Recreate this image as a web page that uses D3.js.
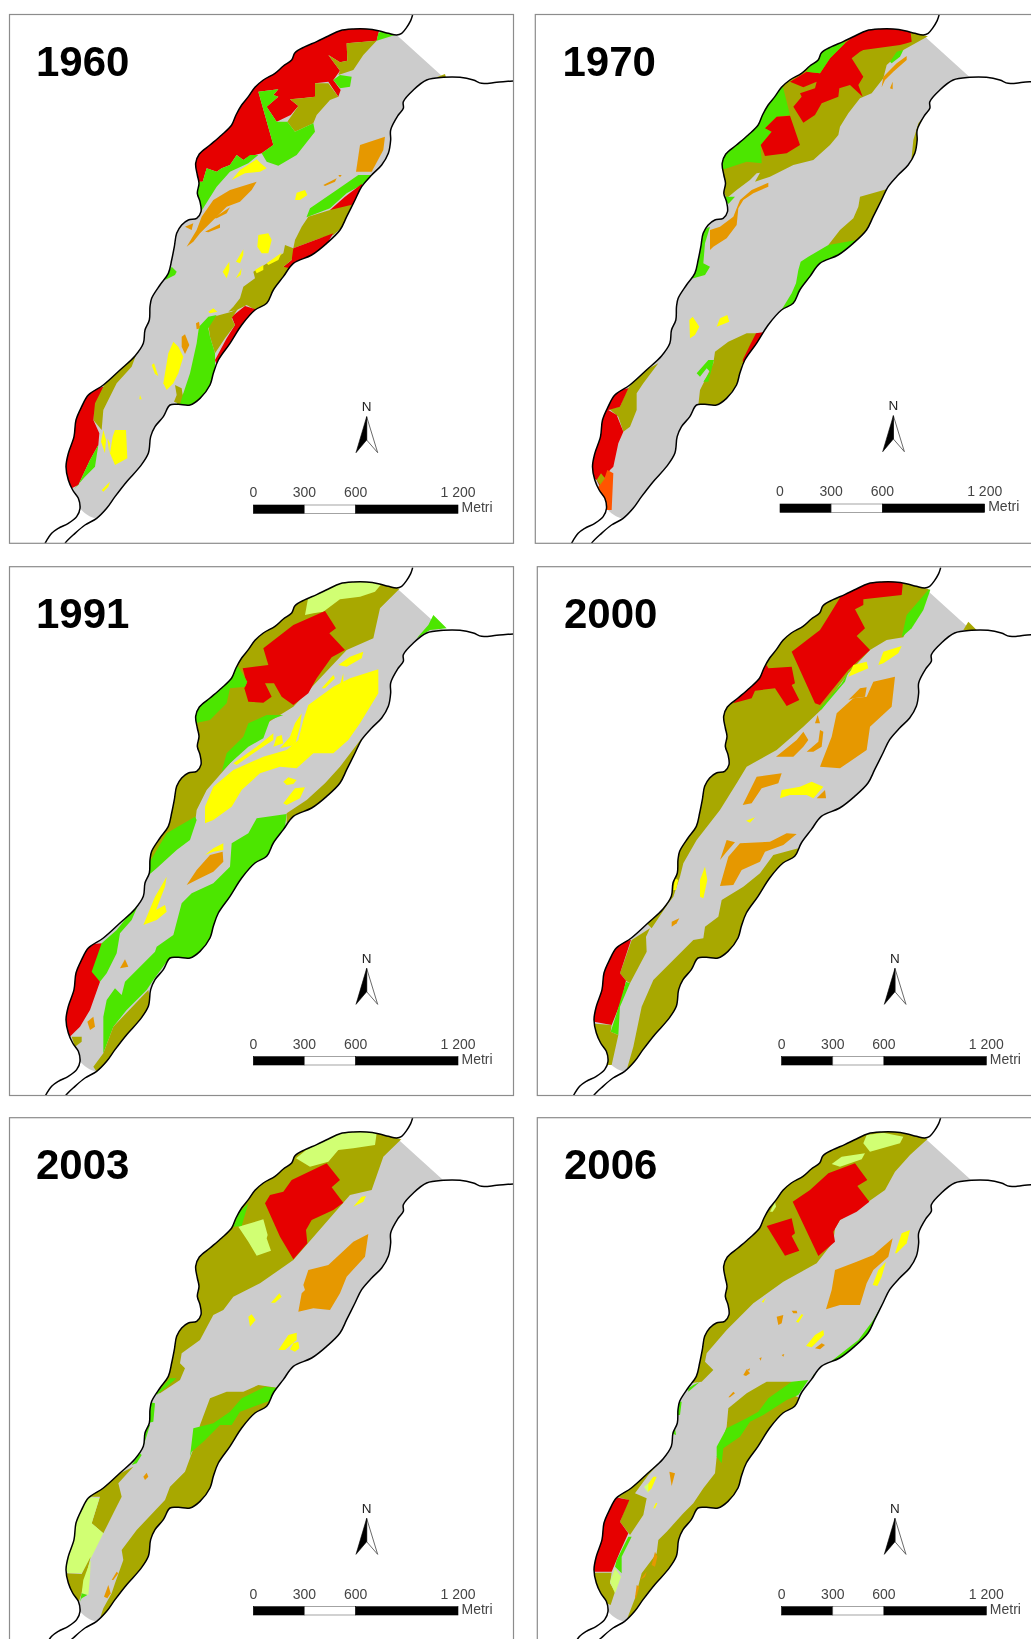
<!DOCTYPE html>
<meta charset="utf-8">
<style>
  html, body { margin: 0; padding: 0; background: #fff; }
  svg { display: block; filter: blur(0.55px); }
  text { font-family: "Liberation Sans", Arial, sans-serif; }
</style>
<script src="https://d3js.org/d3.v7.min.js"></script>
<div id="my_dataviz"></div>

<script>
// panel titles
const years = ["1960", "1970", "1991", "2000", "2003", "2006"];

// scale bar
const scaleTicks = [0, 300, 600, 1200];
const scaleLabels = ["0", "300", "600", "1 200"];
const scaleUnit = "Metri";

// land cover classes
const coverClasses = ["R", "O", "G", "Y", "A", "P", "D"];
const coverColours = ["#e60000", "#a8a800", "#4ce600", "#ffff00", "#e69800", "#d1ff73", "#ff5500"];

// river banks, map units (3 per pixel of the first panel)
const leftBank = "1238,44 1232,62 1218,85 1205,100 1190,105 1165,100 1135,92 1100,87 1060,87 1020,92 985,108 950,125 915,140 885,158 875,180 850,198 825,220 790,240 765,262 745,290 725,315 708,345 695,375 665,405 630,435 598,462 587,490 592,525 597,550 592,580 600,605 603,635 590,655 565,660 545,675 530,700 523,740 515,780 505,820 480,855 455,895 450,920 448,960 435,990 430,1030 405,1068 360,1110 310,1155 265,1185 245,1220 228,1260 222,1310 205,1360 198,1400 205,1440 218,1470 235,1495 240,1525 230,1550 205,1570 175,1585 155,1600 135,1630 120,1660";
const rightBank = "180,1660 195,1630 225,1600 255,1575 290,1555 320,1525 345,1490 380,1445 420,1400 445,1360 452,1310 465,1280 490,1250 510,1215 535,1213 570,1215 600,1195 630,1155 640,1120 655,1080 690,1030 725,975 765,930 800,910 820,870 850,830 880,790 935,765 980,730 1020,690 1040,650 1065,600 1085,560 1115,525 1145,495 1165,460 1172,420 1172,390 1195,345 1210,325 1210,305 1240,270 1280,240 1330,232 1380,232 1420,240 1445,250 1490,247 1540,243 1620,240";

// land parcels per year, sheet units of each panel
const parcels1960 = [
  ["R", "1140,80 1130,122 1040,130 1042,182 1020,187 985,165 1020,212 1000,240 1022,270 1015,290 985,245 945,250 945,290 905,295 870,298 895,318 872,345 830,365 800,320 835,290 820,285 835,268 775,275 820,435 785,460 745,470 730,480 710,465 690,495 665,505 650,515 620,505 608,545 590,545 570,500 590,450 700,330 760,240 870,140 1000,75"],
  ["G", "1135,100 1150,90 1185,105 1130,122"],
  ["O", "1040,130 1130,122 1090,165 1060,210 1015,225 1020,212 985,165 1020,187 1042,182"],
  ["G", "1000,240 1020,225 1055,230 1050,260 1020,265"],
  ["O", "870,298 905,295 945,290 945,250 985,250 1015,290 990,300 950,345 940,370 885,395 862,365 895,318"],
  ["G", "775,275 835,268 820,285 835,290 800,320 830,365 862,365 885,395 940,370 945,395 890,465 835,497 800,485 785,460 820,435"],
  ["G", "580,545 608,545 620,505 650,515 665,505 690,495 710,465 730,480 750,465 775,465 745,490 690,515 650,560 625,600 603,635 585,590"],
  ["Y", "695,540 720,510 770,478 782,490 800,505 780,515 735,520"],
  ["A", "560,740 590,690 605,650 640,600 690,570 770,545 755,570 720,605 680,620 640,660 600,700 580,725"],
  ["A", "640,655 690,622 680,640 650,655"],
  ["A", "615,695 660,672 660,683 625,697"],
  ["A", "555,680 580,670 575,690"],
  ["A", "1080,435 1155,410 1150,450 1115,515 1068,515"],
  ["A", "970,555 1010,535 1005,545 975,558"],
  ["A", "1015,525 1025,525 1020,532"],
  ["Y", "885,600 890,578 915,570 922,585 900,600"],
  ["G", "920,650 930,625 1010,570 1075,525 1120,525 1085,555 1040,580 990,625 920,652"],
  ["R", "990,630 1035,590 1085,552 1090,570 1060,620 1020,630"],
  ["O", "925,650 990,630 1065,612 1040,670 1000,705 960,715 880,745 885,720 905,680"],
  ["R", "880,745 1000,700 970,750 900,800 865,815 850,800 875,780 870,760"],
  ["O", "855,735 880,745 875,780 850,800 890,810 850,850 820,900 775,935 740,915 710,930 685,935 700,920 720,895 730,860 765,835 760,815 850,760"],
  ["R", "695,950 735,918 775,930 735,980 650,1095 645,1080 680,1015 705,975"],
  ["O", "625,975 640,950 695,935 715,925 695,955 705,975 675,1015 645,1060 630,1010"],
  ["G", "625,950 650,945 625,985 630,1010 645,1060 645,1100 640,1160 600,1205 570,1225 530,1213 550,1180 570,1120 590,1030 597,980"],
  ["O", "525,1155 545,1165 548,1185 540,1213 522,1205 530,1185"],
  ["Y", "500,1170 490,1150 505,1060 520,1025 535,1040 550,1070 535,1120 520,1150"],
  ["A", "545,1010 555,1003 568,1035 555,1062 545,1040"],
  ["A", "588,970 597,965 600,985 590,988"],
  ["Y", "455,1095 462,1090 475,1128 465,1122"],
  ["Y", "420,1185 425,1198 418,1198"],
  ["Y", "625,935 640,925 652,935 630,940"],
  ["Y", "775,705 805,700 815,720 805,760 785,760 772,740"],
  ["Y", "708,785 730,748 730,765 720,790"],
  ["Y", "668,815 688,785 688,810 680,835"],
  ["Y", "765,810 790,795 790,810 770,820"],
  ["Y", "800,790 845,758 835,780 805,795"],
  ["Y", "708,835 725,805 722,825"],
  ["G", "495,840 515,800 530,815 525,825"],
  ["O", "410,1060 395,1100 350,1150 310,1230 305,1290 280,1260 280,1210 310,1160 340,1110"],
  ["R", "310,1160 285,1210 280,1260 298,1300 295,1335 270,1380 235,1455 215,1465 180,1390 210,1260 250,1175"],
  ["G", "295,1335 285,1400 255,1430 220,1470 235,1455 270,1380"],
  ["Y", "345,1290 378,1290 382,1375 345,1395 330,1360 338,1310"],
  ["Y", "310,1290 318,1320 315,1360 303,1325"],
  ["Y", "322,1315 330,1330 328,1360"],
  ["Y", "305,1470 330,1445 325,1460 310,1475"],
  ["O", "1310,232 1335,222 1340,240"]
];

const parcels1970 = [
  ["O", "790,245 850,200 1000,100 1190,90 1240,100 1150,150 1100,195 1090,235 1055,280 1020,295 985,340 960,380 955,405 930,435 880,480 820,495 750,530 705,545 720,518 710,520 690,540 650,570 620,595 595,540 595,480 700,380"],
  ["R", "975,130 1030,85 1170,80 1175,125 1160,130 1140,135 1030,150 1020,155 995,175 1030,230 1015,255 1028,290 990,255 958,265 955,290 905,310 885,345 850,368 820,320 845,290 840,280 885,265 890,245 850,262 810,245 860,215 900,220 930,175"],
  ["G", "860,215 880,170 970,120 975,130 930,175 900,220"],
  ["G", "595,510 595,470 690,385 730,320 785,245 810,345 770,350 735,385 755,395 722,435 725,490 680,485 612,508"],
  ["R", "735,385 770,350 810,347 840,435 800,460 735,468 722,435 755,395"],
  ["A", "1085,262 1090,230 1130,190 1160,168 1160,180 1120,215 1095,240"],
  ["A", "1110,265 1118,245 1118,268"],
  ["G", "1110,185 1130,155 1150,150 1140,170 1115,190"],
  ["A", "570,750 570,690 600,680 640,650 660,600 695,570 745,548 745,560 700,580 670,600 655,625 650,675 620,715 580,740"],
  ["G", "610,590 645,590 625,612"],
  ["G", "505,835 530,760 548,690 570,680 555,730 550,790 570,800 555,825 520,835"],
  ["O", "1020,590 1110,565 1070,660 1005,740 925,735 960,690 1000,655 1015,620"],
  ["O", "1245,310 1245,330 1210,370 1200,440 1170,510 1175,470 1180,420 1195,370"],
  ["G", "835,810 842,785 865,770 925,735 1010,720 970,770 910,810 860,870 835,915 795,935 775,945 815,880 828,850"],
  ["Y", "510,1015 508,960 518,950 538,980 525,1005"],
  ["Y", "590,980 600,955 622,945 628,965"],
  ["O", "585,1055 625,1025 680,1000 730,1000 690,1070 665,1095 670,1150 630,1195 590,1220 535,1215 540,1170 555,1140 580,1090"],
  ["R", "708,1000 740,995 705,1065 670,1095 668,1080 690,1035"],
  ["G", "530,1120 565,1080 582,1080 565,1145 550,1145 570,1115 560,1105 540,1130"],
  ["O", "415,1090 370,1150 350,1180 350,1230 330,1280 310,1295 295,1250 265,1225 300,1220 320,1170 360,1120"],
  ["R", "325,1165 300,1220 265,1230 290,1245 310,1295 295,1330 280,1400 270,1410 240,1460 230,1440 200,1420 205,1380 230,1310 235,1250 270,1175"],
  ["D", "235,1460 255,1430 262,1410 280,1420 275,1530 260,1530 240,1500 225,1470"],
  ["O", "230,1440 243,1420 255,1435 240,1455"]
];

const parcels1991 = [
  ["O", "1210,105 1140,175 1120,265 1040,300 880,470 800,520 690,640 620,720 590,780 585,820 520,870 470,950 440,980 420,1050 405,1050 425,950 440,880 480,800 520,720 560,650 575,640 575,560 570,500 620,430 720,320 770,240 860,165 1000,80 1100,80 1180,95"],
  ["P", "915,195 925,140 1000,95 1060,85 1150,95 1125,125 1080,140 1020,148 970,185 940,190"],
  ["R", "790,295 880,225 975,183 1008,235 988,250 1035,300 995,322 950,385 925,430 880,465 845,440 822,400 795,400 815,440 790,458 745,455 733,415 740,400 728,355 805,345"],
  ["G", "585,520 580,490 600,455 690,385 712,345 742,395 735,410 690,415 680,460 650,490 630,510"],
  ["G", "665,665 680,610 730,560 745,520 800,495 850,495 810,510 790,565 745,590 690,640"],
  ["Y", "615,820 615,770 640,710 700,660 790,620 860,600 895,570 910,510 925,465 1000,410 1050,385 1135,358 1135,430 1080,520 1045,570 1000,610 940,610 890,655 840,650 780,670 725,720 695,770 640,810"],
  ["Y", "700,640 770,590 820,550 820,570 760,610 710,645"],
  ["Y", "820,590 830,560 845,555 850,580"],
  ["Y", "840,595 870,560 885,520 905,490 900,530 885,585"],
  ["Y", "965,415 1000,375 1005,385 975,415"],
  ["Y", "1015,420 1030,370 1030,395 1025,420"],
  ["Y", "1015,345 1050,320 1090,305 1085,325 1040,350"],
  ["Y", "745,645 785,625 780,640 760,650"],
  ["Y", "850,695 865,682 890,690 880,702 860,705"],
  ["Y", "850,760 885,715 915,712 900,745 860,765"],
  ["O", "860,790 920,750 975,700 1020,650 1085,565 1060,670 1030,700 960,770 860,840"],
  ["G", "745,850 770,805 860,792 855,830 830,880 810,920 750,975 700,1050 660,1110 645,1160 615,1190 575,1230 500,1235 460,1290 440,1320 380,1380 340,1430 310,1510 310,1400 320,1350 345,1315 365,1335 375,1295 465,1205 470,1190 520,1155 545,1060 575,1030 640,1000 690,950 695,880"],
  ["O", "445,1320 455,1370 360,1480 300,1580 280,1550 310,1510 340,1430"],
  ["G", "590,810 570,870 530,900 470,955 440,980 425,1040 395,1110 360,1150 350,1210 320,1270 300,1295 270,1270 280,1230 305,1180 350,1140 390,1090 415,1045 435,960 500,850 585,800"],
  ["R", "305,1180 275,1265 300,1295 270,1380 240,1430 205,1465 175,1380 210,1250 250,1185"],
  ["O", "215,1460 245,1460 245,1475 225,1490"],
  ["A", "270,1440 262,1415 280,1400 285,1430"],
  ["A", "360,1255 375,1228 385,1250"],
  ["A", "560,1005 590,960 630,915 668,905 670,935 640,965 600,985"],
  ["Y", "615,915 640,895 670,880 670,900 640,905"],
  ["Y", "430,1125 465,1040 500,980 495,1010 468,1080 495,1065 500,1085 470,1110"],
  ["G", "1250,265 1285,225 1300,195 1340,235 1290,240"]
];

const parcels2000 = [
  ["O", "1235,105 1190,175 1150,262 1100,270 1050,300 985,370 905,478 850,530 770,600 680,650 650,700 600,780 530,870 490,940 480,980 460,1040 445,1060 395,1135 380,1120 430,1040 445,960 465,880 515,800 535,720 555,670 595,640 590,560 590,490 630,450 720,340 790,235 890,165 1020,80 1150,80"],
  ["O", "390,1135 335,1170 300,1270 318,1292 330,1300 380,1205 378,1160"],
  ["R", "965,135 1030,85 1150,85 1145,135 1030,148 1030,165 1005,178 1035,235 1010,258 1050,300 985,360 900,465 885,460 815,305 900,240 925,200"],
  ["R", "640,460 715,370 740,345 745,355 815,350 825,400 815,405 838,450 800,468 765,415 705,422 695,445"],
  ["G", "895,480 965,400 985,365 975,395 905,478"],
  ["G", "1145,262 1160,195 1235,108 1210,180 1175,235"],
  ["O", "1330,240 1345,215 1370,240 1345,240"],
  ["Y", "985,380 1000,345 1040,335 1045,355"],
  ["Y", "1075,345 1090,305 1145,288 1135,310 1090,340"],
  ["A", "900,650 935,560 950,490 1000,445 1040,440 1060,395 1125,380 1115,470 1050,530 1040,600 960,655"],
  ["A", "985,450 1020,415 1040,412 1035,440 1000,445"],
  ["A", "885,520 893,495 900,520"],
  ["A", "768,620 830,570 850,545 865,570 850,590 820,620"],
  ["A", "860,605 895,575 900,540 910,545 905,590 880,605"],
  ["A", "668,765 710,680 785,670 775,700 725,715 695,760"],
  ["Y", "780,745 785,720 840,710 875,695 910,710 880,745 860,735 810,735"],
  ["A", "890,745 915,720 918,745"],
  ["Y", "678,812 705,802 690,818"],
  ["A", "600,930 620,870 645,877 620,905"],
  ["A", "600,1008 625,920 660,880 750,875 800,850 830,852 790,885 735,905 720,935 665,960 640,1005"],
  ["O", "605,1050 670,1010 720,970 760,915 835,895 840,925 780,970 740,1020 710,1080 680,1120 670,1165 600,1230 525,1235 500,1290 480,1375 390,1470 325,1575 320,1560 340,1490 365,1370 400,1290 520,1170 550,1165 555,1130 595,1100"],
  ["Y", "540,1040 540,990 555,950 562,990 550,1045"],
  ["Y", "460,1020 465,985 475,990 468,1020"],
  ["A", "455,1130 455,1115 478,1105 470,1120"],
  ["R", "333,1170 300,1270 318,1292 305,1350 275,1425 222,1415 210,1370 235,1320 235,1260 275,1180"],
  ["G", "318,1295 330,1300 300,1370 295,1455 272,1445 290,1390"],
  ["O", "205,1420 275,1425 272,1445 295,1455 275,1545 255,1545 230,1490 205,1440"]
];

const parcels2003 = [
  ["O", "1210,112 1150,170 1115,270 1050,285 880,480 780,550 700,590 670,630 640,645 600,720 545,760 540,790 555,805 540,840 480,880 455,880 490,800 510,720 530,670 580,640 570,500 640,430 730,310 790,230 900,150 1000,85 1180,90"],
  ["P", "888,175 925,145 1010,100 1060,90 1130,100 1125,135 1060,145 1015,150 985,185 930,200"],
  ["R", "795,310 810,285 850,275 875,240 980,190 1020,240 995,262 1030,308 1000,330 935,360 918,390 922,430 880,478 840,410"],
  ["P", "715,380 790,358 803,405 800,415 813,452 770,467 745,425"],
  ["G", "700,380 715,340 745,310 733,350 725,378"],
  ["Y", "1060,320 1085,290 1098,288 1090,305"],
  ["A", "895,635 905,580 915,570 910,555 925,510 985,495 1060,425 1105,402 1095,470 1040,530 1020,580 990,630 940,625"],
  ["Y", "813,608 838,580 845,590 825,608"],
  ["Y", "750,680 745,650 755,643 767,660"],
  ["Y", "835,750 865,705 890,698 890,720 855,750"],
  ["Y", "870,748 880,730 895,725 898,745 885,755"],
  ["O", "600,975 630,895 680,875 730,875 775,855 840,865 815,925 750,975 700,1050 660,1110 645,1160 580,1230 500,1235 475,1290 455,1370 360,1480 305,1565 300,1555 310,1525 335,1480 345,1450 370,1380 365,1350 410,1290 495,1200 510,1160 555,1115 590,1020"],
  ["G", "795,860 840,865 815,900 720,935 695,975 660,975 610,1025 575,1055 555,1115 570,1070 580,985 640,970 690,935 725,895"],
  ["G", "470,880 510,835 530,835 500,860 470,885"],
  ["G", "445,905 465,910 460,965 440,970 442,930"],
  ["G", "430,975 450,975 430,1040 420,1040"],
  ["G", "395,1095 420,1060 425,1065 410,1090"],
  ["O", "400,1100 355,1150 365,1190 340,1240 310,1300 275,1270 300,1190 265,1190 340,1130"],
  ["P", "255,1190 298,1195 275,1270 310,1300 275,1370 245,1420 205,1420 175,1380 205,1300 220,1230"],
  ["O", "195,1420 245,1422 272,1370 245,1480 235,1510 205,1470 185,1430"],
  ["P", "272,1380 270,1430 265,1485 245,1480 250,1440"],
  ["G", "240,1505 245,1480 262,1485 245,1495"],
  ["A", "430,1130 440,1118 445,1130 435,1140"],
  ["A", "335,1440 350,1415 355,1420 340,1440"],
  ["A", "312,1490 325,1455 332,1480 322,1495"]
];

const parcels2006 = [
  ["O", "1225,115 1170,165 1125,215 1095,270 1045,305 960,360 945,385 940,425 890,490 790,545 700,610 620,690 560,760 555,785 580,810 545,845 510,850 480,890 465,890 500,790 525,720 550,665 590,640 590,490 680,400 790,235 930,130 1040,85 1180,90"],
  ["P", "1030,130 1040,105 1090,98 1150,110 1140,130 1050,155"],
  ["P", "935,192 965,170 1035,160 1025,178 960,200"],
  ["P", "750,335 765,305 768,320 758,335"],
  ["R", "818,305 870,270 925,220 1005,190 1042,240 1012,258 1048,305 1010,335 960,360 940,395 945,425 895,468"],
  ["R", "740,378 815,355 825,400 815,408 838,452 795,467"],
  ["A", "918,628 935,570 945,510 1010,485 1060,465 1118,415 1105,470 1060,510 1040,550 1020,615 960,615"],
  ["Y", "1125,460 1145,400 1170,390 1160,430 1130,460"],
  ["Y", "1058,555 1075,510 1098,485 1085,530 1072,558"],
  ["A", "775,675 770,650 790,645 785,670"],
  ["A", "815,632 830,632 832,640 820,640"],
  ["Y", "828,665 845,642 850,645 835,668"],
  ["Y", "725,605 738,592 730,608"],
  ["Y", "858,738 885,705 910,690 912,705 875,742"],
  ["A", "885,745 905,730 915,735 900,748"],
  ["A", "718,775 725,772 722,782"],
  ["A", "785,765 793,762 790,770"],
  ["A", "680,810 690,805 688,812"],
  ["G", "1130,555 1085,680 1040,730 960,800 890,840 870,850 880,825 945,775 1015,720 1060,660 1105,580"],
  ["O", "620,980 625,925 680,880 740,845 815,845 800,875 840,895 840,915 770,980 720,1060 675,1130 670,1160 600,1230 530,1235 500,1290 480,1375 385,1490 325,1570 320,1560 345,1495 365,1420 410,1360 415,1320 440,1295 490,1240 520,1210 550,1165 585,1120 590,1070"],
  ["G", "815,845 865,840 835,885 800,900 730,945 690,965 660,1010 610,1045 605,1090 590,1070 590,1040 620,985 680,955 715,935 745,895"],
  ["G", "505,865 520,855 540,845 505,875"],
  ["G", "470,905 485,905 480,945 470,945"],
  ["G", "455,1000 465,985 468,1005"],
  ["O", "440,1065 385,1125 345,1180 380,1195 370,1245 330,1305 300,1265 325,1200 290,1190 350,1150"],
  ["R", "280,1190 328,1200 300,1265 325,1300 300,1355 275,1415 222,1415 210,1370 235,1320 235,1260 260,1210"],
  ["G", "325,1310 335,1310 305,1370 305,1420 285,1400 290,1380"],
  ["O", "205,1418 275,1418 270,1450 285,1475 272,1515 235,1500 205,1440"],
  ["P", "270,1445 285,1405 303,1430 285,1480"],
  ["A", "455,1158 448,1115 465,1120"],
  ["A", "625,892 640,875 645,880 630,892"],
  ["A", "670,825 680,808 690,820 678,828"],
  ["A", "395,1395 405,1355 412,1370 405,1400"],
  ["A", "360,1440 380,1415 375,1430"],
  ["A", "345,1495 350,1455 358,1460 348,1495"],
  ["Y", "385,1175 378,1160 400,1130 410,1130 395,1165"],
  ["Y", "400,1225 408,1208 412,1210 405,1225"],
  ["P", "372,1160 385,1150 385,1180"]
];

const parcelsByYear = [parcels1960, parcels1970, parcels1991, parcels2000, parcels2003, parcels2006];

const width_sc = 1031, height_sc = 1639;

// offsets of the six panels on the page, px
const frameX = [9.5, 535.3, 9.5, 537.3, 9.5, 537.3];
const frameY = [14.5, 14.5, 566.7, 566.7, 1117.7, 1117.7];
const frameW = 504, frameH = 528.8;
const mapDx = [0, 526.5, 0, 528, 0, 528];
const mapDy = [0, 0, 553, 553, 1103, 1103];
const sheetX = [0, 520, 0, 520, 0, 520];
const sheetY = [0, 0, 550, 550, 1100, 1100];
const barDx = [0, 526.7, 0, 528.3, 0, 528.3];
const barDy = [0, -1, 551.7, 551.7, 1101.7, 1101.7];
const titleX = [36, 562.5, 36, 564, 36, 564];
const titleY = [76, 75.5, 628, 628, 1178.5, 1178.5];

const readPoints = s => s.split(" ").map(p => p.split(",").map(Number));

const cover = d3.scaleOrdinal().domain(coverClasses).range(coverColours);

const svg = d3.select("#my_dataviz")
    .append("svg")
    .attr("width", width_sc)
    .attr("height", height_sc);

svg.append("rect").attr("width", width_sc).attr("height", height_sc).attr("fill", "#fff");

years.forEach(function (year, i) {
    // map units to page
    const mx = d3.scaleLinear().domain([0, 3]).range([mapDx[i], mapDx[i] + 1]);
    const my = d3.scaleLinear().domain([0, 3]).range([mapDy[i], mapDy[i] + 1]);
    const sx = d3.scaleLinear().domain([0, 3]).range([sheetX[i], sheetX[i] + 1]);
    const sy = d3.scaleLinear().domain([0, 3]).range([sheetY[i], sheetY[i] + 1]);
    const mapLine = d3.line().x(d => mx(d[0])).y(d => my(d[1])).curve(d3.curveCatmullRom);
    const sheetLine = d3.line().x(d => sx(d[0])).y(d => sy(d[1]));

    const left = readPoints(leftBank), right = readPoints(rightBank);
    const riverPath = mapLine(left.slice(4).concat(right)) + "Z";

    const defs = svg.append("defs");
    defs.append("clipPath").attr("id", "frame" + i)
      .append("rect")
      .attr("x", frameX[i]).attr("y", frameY[i])
      .attr("width", frameW + (frameX[i] > 100 ? 60 : 0)).attr("height", frameH);
    defs.append("clipPath").attr("id", "river" + i)
      .append("path").attr("d", riverPath);

    const g = svg.append("g").attr("clip-path", `url(#frame${i})`);

    // river bed between the two banks, cut at both ends
    const bed = left.slice(4, left.findIndex(d => d[1] >= 1525) + 1)
        .concat(right.slice(right.findIndex(d => d[1] <= 1555), right.findIndex(d => d[0] === 1330) + 1));
    g.append("path")
      .attr("d", mapLine(bed) + "Z")
      .attr("fill", "#cccccc");

    const land = g.append("g").attr("clip-path", `url(#river${i})`);
    land.selectAll("path")
      .data(parcelsByYear[i])
      .join("path")
        .attr("d", d => sheetLine(readPoints(d[1])) + "Z")
        .attr("fill", d => cover(d[0]));

    // banks
    g.selectAll("path.bank")
      .data([left, right])
      .join("path")
        .attr("class", "bank")
        .attr("d", mapLine)
        .attr("fill", "none")
        .attr("stroke", "#000")
        .attr("stroke-width", 1.5);

    // frame
    svg.append("rect")
      .attr("x", frameX[i]).attr("y", frameY[i])
      .attr("width", frameW + (frameX[i] > 100 ? 60 : 0)).attr("height", frameH)
      .attr("fill", "none")
      .attr("stroke", "#8c8c8c")
      .attr("stroke-width", 1.2);

    // title
    svg.append("text")
      .attr("x", titleX[i]).attr("y", titleY[i])
      .attr("font-size", 42)
      .attr("font-weight", "bold")
      .attr("fill", "#000")
      .text(year);

    // north arrow
    const nx = d3.scaleLinear().domain([0, 3]).range([barDx[i], barDx[i] + 1]);
    const ny = d3.scaleLinear().domain([0, 3]).range([barDy[i], barDy[i] + 1]);
    const arrowLine = d3.line().x(d => nx(d[0])).y(d => ny(d[1]));
    const arrowTip = [1100, 1250], arrowNotch = [1100, 1320];
    const arrowLeft = [1068, 1358], arrowRight = [1133, 1358];
    svg.append("path")
      .attr("d", arrowLine([arrowTip, arrowRight, arrowNotch]) + "Z")
      .attr("fill", "#fff").attr("stroke", "#444").attr("stroke-width", 0.8);
    svg.append("path")
      .attr("d", arrowLine([arrowTip, arrowLeft, arrowNotch]) + "Z")
      .attr("fill", "#000").attr("stroke", "#000").attr("stroke-width", 0.6);
    svg.append("text")
      .attr("x", nx(1100)).attr("y", ny(1233))
      .attr("text-anchor", "middle")
      .attr("font-size", 13.5)
      .attr("fill", "#222")
      .text("N");

    // scale bar
    const bar = d3.scaleLinear()
        .domain([scaleTicks[0], scaleTicks[3]])
        .range([253.3 + barDx[i], 458 + barDx[i]]);
    const barY = 505 + barDy[i], barH = 8.3;
    const barSeg = d3.pairs(scaleTicks);
    svg.append("g").selectAll("rect")
      .data(barSeg)
      .join("rect")
        .attr("x", d => bar(d[0]))
        .attr("y", barY)
        .attr("width", d => bar(d[1]) - bar(d[0]))
        .attr("height", barH)
        .attr("fill", (d, j) => j === 1 ? "#fff" : "#000")
        .attr("stroke", (d, j) => j === 1 ? "#666" : "#000")
        .attr("stroke-width", 0.6);
    svg.append("g").selectAll("text")
      .data(scaleTicks)
      .join("text")
        .attr("x", d => bar(d))
        .attr("y", barY - 8)
        .attr("text-anchor", "middle")
        .attr("font-size", 14)
        .attr("fill", "#444")
        .text((d, j) => scaleLabels[j]);
    svg.append("text")
      .attr("x", bar(1200) + 3.5).attr("y", barY + 7)
      .attr("font-size", 14)
      .attr("fill", "#444")
      .text(scaleUnit);
});
</script>
